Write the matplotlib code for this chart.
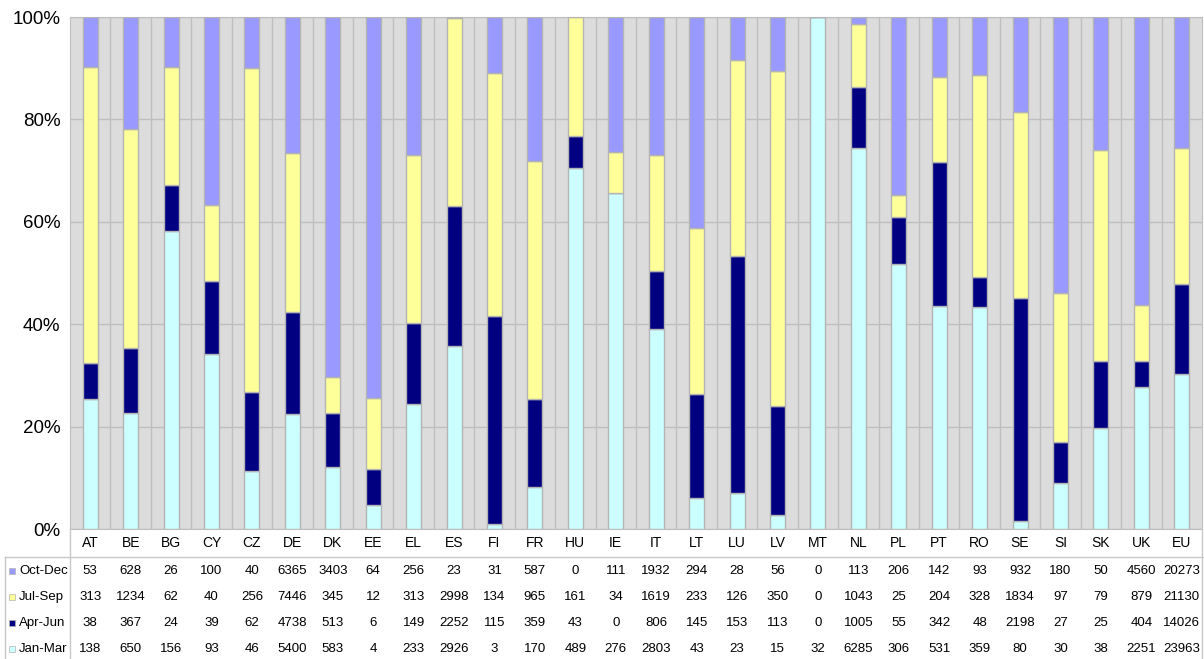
import numpy as np
import matplotlib.pyplot as plt
from matplotlib.lines import Line2D
from matplotlib.patches import Rectangle

countries = ['AT', 'BE', 'BG', 'CY', 'CZ', 'DE', 'DK', 'EE', 'EL', 'ES', 'FI', 'FR', 'HU', 'IE',
             'IT', 'LT', 'LU', 'LV', 'MT', 'NL', 'PL', 'PT', 'RO', 'SE', 'SI', 'SK', 'UK', 'EU']

oct_dec = [53, 628, 26, 100, 40, 6365, 3403, 64, 256, 23, 31, 587, 0, 111,
           1932, 294, 28, 56, 0, 113, 206, 142, 93, 932, 180, 50, 4560, 20273]
jul_sep = [313, 1234, 62, 40, 256, 7446, 345, 12, 313, 2998, 134, 965, 161, 34,
           1619, 233, 126, 350, 0, 1043, 25, 204, 328, 1834, 97, 79, 879, 21130]
apr_jun = [38, 367, 24, 39, 62, 4738, 513, 6, 149, 2252, 115, 359, 43, 0,
           806, 145, 153, 113, 0, 1005, 55, 342, 48, 2198, 27, 25, 404, 14026]
jan_mar = [138, 650, 156, 93, 46, 5400, 583, 4, 233, 2926, 3, 170, 489, 276,
           2803, 43, 23, 15, 32, 6285, 306, 531, 359, 80, 30, 38, 2251, 23963]

# bottom -> top stacking order
series = [('Jan-Mar', jan_mar, '#CCFFFF'),
          ('Apr-Jun', apr_jun, '#000080'),
          ('Jul-Sep', jul_sep, '#FFFF99'),
          ('Oct-Dec', oct_dec, '#9999FF')]

plt.rcParams['font.family'] = ['Liberation Sans', 'DejaVu Sans']

W, H = 1204, 659
fig = plt.figure(figsize=(W / 100, H / 100), dpi=100)
x0, x1, y0, y1 = 70, 1202, 17, 529
ax = fig.add_axes([x0 / W, 1 - y1 / H, (x1 - x0) / W, (y1 - y0) / H])
ax.set_facecolor('#DCDCDC')

x = np.arange(len(countries))
totals = np.sum([np.array(s[1]) for s in series], axis=0)
bottom = np.zeros(len(countries))
for name, vals, col in series:
    pct = np.array(vals) / totals * 100
    ax.bar(x, pct, width=0.37, bottom=bottom, color=col, edgecolor='#B4B4B4',
           linewidth=1.0, zorder=3)
    bottom += pct

ax.set_xlim(-0.5, len(countries) - 0.5)
ax.set_ylim(0, 100)
ax.set_yticks([0, 20, 40, 60, 80, 100])
ax.set_yticklabels(['0%', '20%', '40%', '60%', '80%', '100%'], fontsize=13.5)
ax.yaxis.grid(True, color='#BEBEBE', linewidth=1, zorder=1)
for k in range(len(countries) - 1):
    ax.axvline(k + 0.5, color='#BEBEBE', linewidth=1, zorder=1)
ax.tick_params(axis='y', length=0, pad=7)
ax.tick_params(axis='x', length=0, pad=5)
ax.set_xticks(x)
ax.set_xticklabels(countries, fontsize=10)
for s in ax.spines.values():
    s.set_color('#BEBEBE')

# data table below the chart
row_labels = ['Oct-Dec', 'Jul-Sep', 'Apr-Jun', 'Jan-Mar']
row_data = [oct_dec, jul_sep, apr_jun, jan_mar]
row_colors = ['#9999FF', '#FFFF99', '#000080', '#CCFFFF']
row_y = [571, 597, 623, 649]
trans = ax.get_xaxis_transform()
for lab, vals, col, yp in zip(row_labels, row_data, row_colors, row_y):
    ya = -(yp - y1) / (y1 - y0)
    for xi, v in zip(x, vals):
        ax.text(xi, ya, str(v), transform=trans, ha='center', va='center',
                fontsize=9.5, clip_on=False)
    fig.text(19 / W, 1 - yp / H, lab, ha='left', va='center', fontsize=9.5)
    fig.patches.append(Rectangle((9 / W, 1 - (yp + 3) / H), 6 / W, 6 / H,
                                 transform=fig.transFigure, facecolor=col,
                                 edgecolor='#B4B4B4', linewidth=0.5))

line_col = '#C8C8C8'
fig.lines.append(Line2D([5 / W, 1], [1 - 557 / H, 1 - 557 / H], color=line_col,
                        linewidth=1, transform=fig.transFigure))
fig.lines.append(Line2D([5 / W, 5 / W], [1 - 557 / H, 0], color=line_col,
                        linewidth=1, transform=fig.transFigure))
fig.lines.append(Line2D([x0 / W, x0 / W], [1 - y1 / H, 0], color=line_col,
                        linewidth=1, transform=fig.transFigure))
fig.lines.append(Line2D([x1 / W, x1 / W], [1 - y1 / H, 0], color=line_col,
                        linewidth=1, transform=fig.transFigure))

fig.savefig('out.png', dpi=100)
